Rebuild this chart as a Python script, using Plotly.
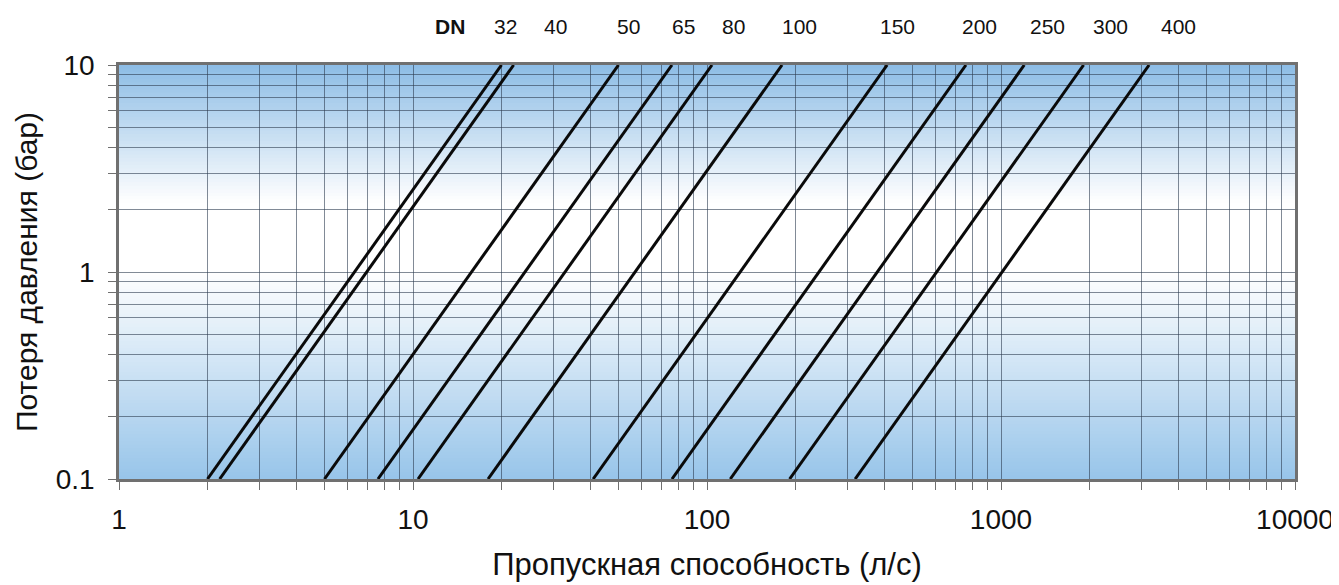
import math
import plotly.graph_objects as go

# ---- data ----
dn_labels = ["32", "40", "50", "65", "80", "100", "150", "200", "250", "300", "400"]
# flow (l/s) where each DN line meets 0.1 bar and 10 bar
flow_at_low = [2.0, 2.2, 5.0, 7.6, 10.4, 18.0, 41.0, 76.0, 120.0, 191.0, 319.0]
flow_at_high = [20.0, 22.0, 50.0, 76.0, 104.0, 180.0, 410.0, 760.0, 1200.0, 1910.0, 3190.0]
dp_range = [0.1, 10.0]
# horizontal positions (l/s) of the DN captions above the plot
label_flow = [20.6, 30.6, 53.9, 83.5, 123.5, 207.0, 446.0, 842.0, 1434.0, 2349.0, 4000.0]
dn_title_flow = 13.4

x_mults = [m for e in range(0, 4) for m in range(1, 10)] + [1]
x_tickvals = [m * 10 ** e for e in range(0, 4) for m in range(1, 10)] + [10000]
x_ticktext = [str(v) if m == 1 else "" for v, m in zip(x_tickvals, x_mults)]
y_mults = [m for e in (-1, 0) for m in range(1, 10)] + [1]
y_tickvals = [m * 10 ** e for e in (-1, 0) for m in range(1, 10)] + [10]
y_major_text = {0.1: "0.1", 1: "1", 10: "10"}
y_ticktext = [y_major_text[round(v, 1)] if m == 1 else "" for v, m in zip(y_tickvals, y_mults)]

x_title = "Пропускная способность (л/с)"
y_title = "Потеря давления (бар)"

FONT = "Liberation Sans, Arial, Helvetica, sans-serif"

fig = go.Figure()
for lo, hi, name in zip(flow_at_low, flow_at_high, dn_labels):
    fig.add_trace(go.Scatter(x=[lo, hi], y=dp_range, mode="lines", name="DN " + name,
                             line=dict(color="#0a0a0a", width=3), showlegend=False,
                             hoverinfo="x+y+name"))

# background gradient (blue - white - blue)
top_c = (141, 189, 230)
bot_c = (152, 197, 234)
white = (255, 255, 255)
n = 120
shapes = []
for i in range(n):
    y0 = i / n
    y1 = (i + 1) / n
    ym = (y0 + y1) / 2
    if ym < 0.50:
        t = ym / 0.50
        c = tuple(bot_c[k] + (white[k] - bot_c[k]) * t for k in range(3))
    elif ym <= 0.67:
        c = white
    else:
        t = (ym - 0.67) / 0.33
        c = tuple(white[k] + (top_c[k] - white[k]) * t for k in range(3))
    shapes.append(dict(type="rect", xref="x domain", yref="y domain", x0=0, x1=1,
                       y0=y0, y1=y1 + 0.002, fillcolor="rgb(%d,%d,%d)" % tuple(int(v) for v in c),
                       line=dict(width=0), layer="below"))

LBL_Y = 1.0918
annotations = [dict(x=math.log10(dn_title_flow), y=LBL_Y, xref="x", yref="paper", text="<b>DN</b>",
                    yanchor="middle", showarrow=False, font=dict(size=21, color="#111", family=FONT))]
for lf, name in zip(label_flow, dn_labels):
    annotations.append(dict(x=math.log10(lf), y=LBL_Y, xref="x", yref="paper", text=name,
                            yanchor="middle", showarrow=False,
                            font=dict(size=21, color="#111", family=FONT)))

grid_c = "rgba(45,60,80,0.6)"
axis_common = dict(type="log", showgrid=True, gridcolor=grid_c, gridwidth=1,
                   showline=True, linecolor="#707070", linewidth=2.5, mirror=True,
                   ticks="outside", ticklen=8, tickcolor="#707070", tickwidth=1,
                   tickfont=dict(size=28, color="#111", family=FONT),
                   zeroline=False)

# the page body has an 8px margin, so the figure is offset by 8px
fig.update_layout(
    width=1331, height=577,
    margin=dict(l=111, r=44, t=57, b=106, autoexpand=False),
    paper_bgcolor="white", plot_bgcolor="white",
    shapes=shapes, annotations=annotations,
    xaxis=dict(**axis_common, range=[0, 4], tickvals=x_tickvals, ticktext=x_ticktext,
               ticklabelstandoff=6,
               title=dict(text=x_title, font=dict(size=31, color="#111", family=FONT), standoff=19)),
    yaxis=dict(**axis_common, range=[-1, 1], tickvals=y_tickvals, ticktext=y_ticktext,
               ticklabelstandoff=8,
               title=dict(text=y_title, font=dict(size=30, color="#111", family=FONT), standoff=10)),
)

fig.write_html("out.html")
